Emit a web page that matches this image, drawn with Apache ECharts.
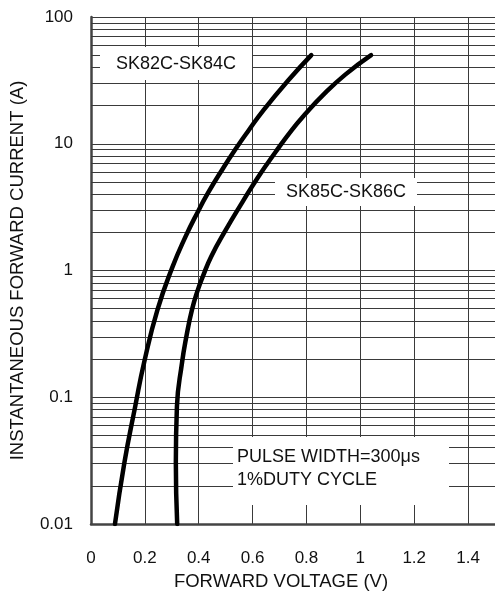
<!DOCTYPE html>
<html>
<head>
<meta charset="utf-8">
<script src="https://cdn.jsdelivr.net/npm/echarts@6/dist/echarts.min.js"></script>
<style>html,body{margin:0;padding:0;background:#fff}#c{width:495px;height:599px}</style>
</head>
<body>
<div id="c"></div>
<script>
// SK82C-SK84C
var voltageA = [0.089, 0.124, 0.164, 0.197, 0.247, 0.303, 0.351, 0.395, 0.435, 0.487, 0.535, 0.587, 0.642, 0.731, 0.818];
var currentA = [0.010, 0.0305, 0.0843, 0.1875, 0.491, 1.072, 1.85, 2.86, 4.11, 6.24, 8.97, 12.9, 18.6, 31.4, 50];
// SK85C-SK86C
var voltageB = [0.320, 0.315, 0.319, 0.338, 0.354, 0.375, 0.397, 0.415, 0.446, 0.501, 0.561, 0.619, 0.686, 0.744, 0.793, 0.863, 0.944, 1.040];
var currentB = [0.010, 0.0305, 0.0843, 0.1875, 0.300, 0.491, 0.706, 0.894, 1.285, 2.10, 3.43, 5.40, 8.65, 12.7, 16.9, 24.4, 35.1, 50];
// minor horizontal grid values (2..9 per decade)
var minorCurrents = [0.02,0.03,0.04,0.05,0.06,0.07,0.08,0.09,
                     0.2,0.3,0.4,0.5,0.6,0.7,0.8,0.9,
                     2,3,4,5,6,7,8,9,
                     20,30,40,50,60,70,80,90];
var seriesNames = ['SK82C-SK84C', 'SK85C-SK86C'];
var noteLines = ['PULSE WIDTH=300\u03bcs', '1%DUTY CYCLE'];

function pairs(xs, ys){ return xs.map(function(x,i){ return [x, ys[i]]; }); }

var FONT = '"Liberation Sans", Arial, sans-serif';
var GRID = '#3a3a3a';

var chart = echarts.init(document.getElementById('c'));
chart.setOption({
  animation: false,
  backgroundColor: '#fff',
  grid: {left: 90, top: 17, width: 406, height: 507},
  xAxis: {
    type: 'value', min: 0, max: 1.5, interval: 0.2,
    name: 'FORWARD VOLTAGE (V)', nameLocation: 'middle', nameGap: 48,
    nameTextStyle: {fontFamily: FONT, fontSize: 18.5, color: '#111', padding: [0, 24, 0, 0]},
    axisLine: {show: true, lineStyle: {color: '#444', width: 2.5}},
    axisTick: {show: false},
    axisLabel: {margin: 26, fontFamily: FONT, fontSize: 17, color: '#111', showMaxLabel: false},
    splitLine: {show: true, lineStyle: {color: GRID, width: 1}}
  },
  yAxis: {
    type: 'log', logBase: 10, min: 0.01, max: 100,
    name: 'INSTANTANEOUS FORWARD CURRENT (A)', nameLocation: 'middle', nameGap: 64,
    nameTextStyle: {fontFamily: FONT, fontSize: 18.5, color: '#111'},
    axisLine: {show: true, lineStyle: {color: '#444', width: 2.5}},
    axisTick: {show: false},
    axisLabel: {margin: 18, fontFamily: FONT, fontSize: 17, color: '#111'},
    splitLine: {show: true, lineStyle: {color: GRID, width: 1}}
  },
  graphic: [
    {type: 'rect', z: 100, shape: {x: 100, y: 47, width: 152, height: 33}, style: {fill: '#fff'}},
    {type: 'text', z: 101, x: 176, y: 64, style: {text: seriesNames[0], font: '18px ' + FONT, fill: '#111', textAlign: 'center', textVerticalAlign: 'middle'}},
    {type: 'rect', z: 100, shape: {x: 275, y: 178, width: 142, height: 28}, style: {fill: '#fff'}},
    {type: 'text', z: 101, x: 346, y: 192, style: {text: seriesNames[1], font: '18px ' + FONT, fill: '#111', textAlign: 'center', textVerticalAlign: 'middle'}},
    {type: 'rect', z: 100, shape: {x: 233, y: 437, width: 216, height: 68}, style: {fill: '#fff'}},
    {type: 'text', z: 101, x: 237, y: 457, style: {text: noteLines[0], font: '18px ' + FONT, fill: '#111', textAlign: 'left', textVerticalAlign: 'middle'}},
    {type: 'text', z: 101, x: 237, y: 480, style: {text: noteLines[1], font: '18px ' + FONT, fill: '#111', textAlign: 'left', textVerticalAlign: 'middle'}}
  ],
  series: [
    {
      name: 'grid-minor', type: 'line', data: [], silent: true,
      markLine: {
        silent: true, symbol: 'none', label: {show: false}, animation: false,
        lineStyle: {color: GRID, width: 1, type: 'solid'},
        data: minorCurrents.map(function(v){ return {yAxis: v}; })
      }
    },
    {
      name: seriesNames[0], type: 'line', data: pairs(voltageA, currentA),
      smooth: 0.5, showSymbol: false, z: 5,
      lineStyle: {color: '#000', width: 4.5, cap: 'round', join: 'round'}
    },
    {
      name: seriesNames[1], type: 'line', data: pairs(voltageB, currentB),
      smooth: 0.5, showSymbol: false, z: 5,
      lineStyle: {color: '#000', width: 4.5, cap: 'round', join: 'round'}
    }
  ]
});
</script>
</body>
</html>
